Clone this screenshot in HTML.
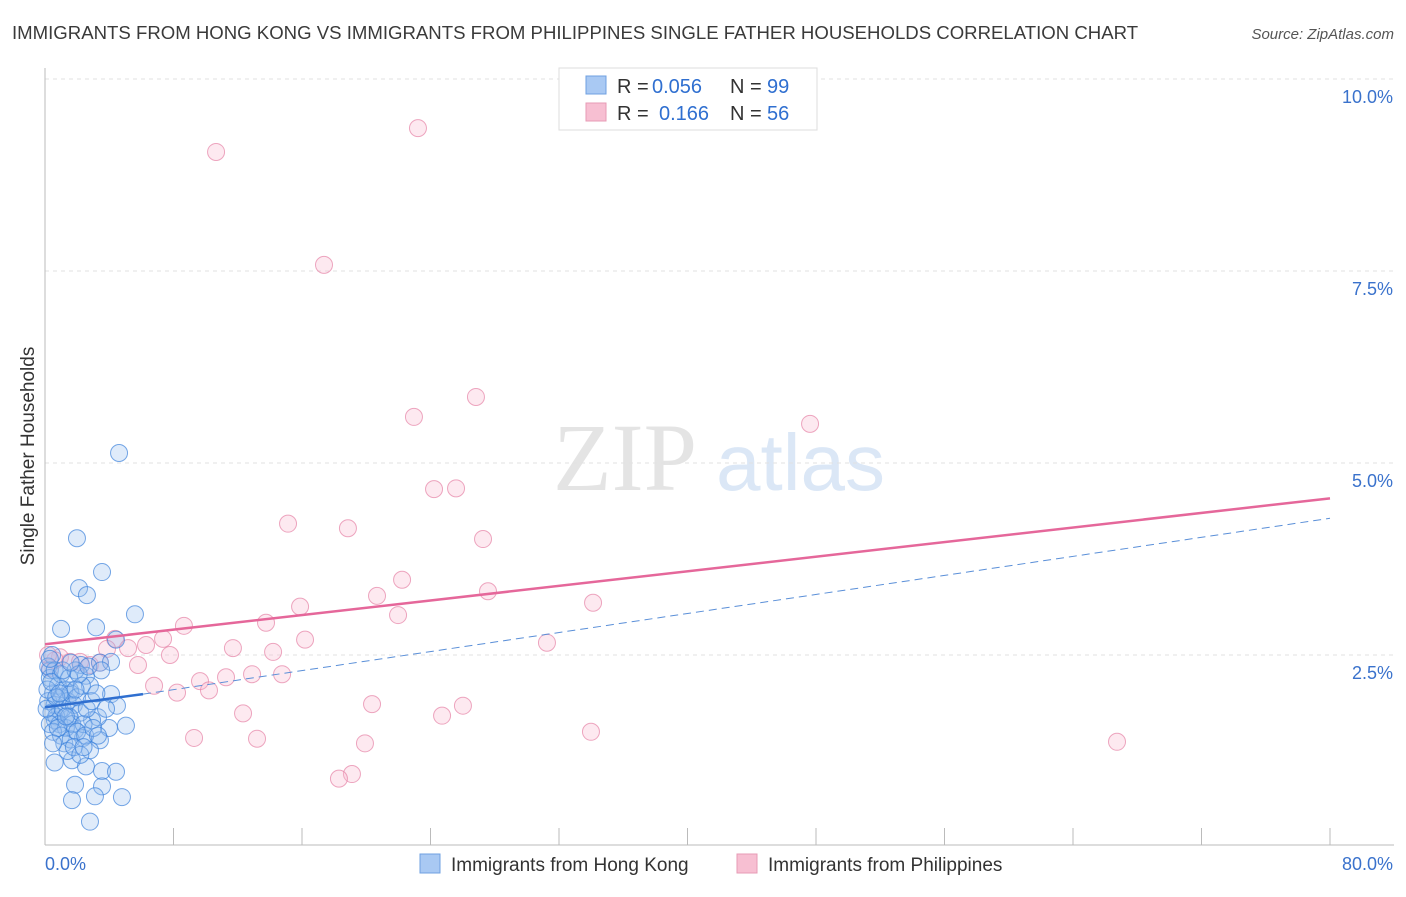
<!DOCTYPE html>
<html><head><meta charset="utf-8"><style>
body{margin:0;background:#fff;font-family:"Liberation Sans",sans-serif}
</style></head><body>
<svg id="chart" width="1406" height="892" xmlns="http://www.w3.org/2000/svg">
<text x="12" y="39" font-size="18.6" fill="#3a3a3a">IMMIGRANTS FROM HONG KONG VS IMMIGRANTS FROM PHILIPPINES SINGLE FATHER HOUSEHOLDS CORRELATION CHART</text>
<text x="1394" y="39" font-size="15" fill="#555" text-anchor="end" font-style="italic">Source: ZipAtlas.com</text>
<text x="553" y="490" font-size="96" fill="#e4e4e4" font-family="Liberation Serif,serif">ZIP</text>
<text x="716" y="490" font-size="80" fill="#dbe7f6">atlas</text>
<g id="grid"></g>
<g id="axes"></g>
<g id="pts"></g>
<g id="trends"></g>
<text transform="translate(34,456) rotate(-90)" font-size="19" fill="#333" text-anchor="middle">Single Father Households</text>
<g>
<rect x="559" y="68" width="258" height="62" fill="#fff" stroke="#ddd"/>
<rect x="586" y="76" width="20" height="18" fill="#a9c9f3" stroke="#6fa0e0"/>
<rect x="586" y="103" width="20" height="18" fill="#f7bfd2" stroke="#e79bb5"/>
<text x="617" y="93" font-size="20" fill="#333">R =</text>
<text x="652" y="93" font-size="20" fill="#2f6fd0">0.056</text>
<text x="730" y="93" font-size="20" fill="#333">N =</text>
<text x="767" y="93" font-size="20" fill="#2f6fd0">99</text>
<text x="617" y="120" font-size="20" fill="#333">R =</text>
<text x="659" y="120" font-size="20" fill="#2f6fd0">0.166</text>
<text x="730" y="120" font-size="20" fill="#333">N =</text>
<text x="767" y="120" font-size="20" fill="#2f6fd0">56</text>
</g>
<g>
<rect x="420" y="854" width="20" height="19" fill="#a9c9f3" stroke="#6fa0e0"/>
<text x="451" y="871" font-size="19" fill="#333">Immigrants from Hong Kong</text>
<rect x="737" y="854" width="20" height="19" fill="#f7bfd2" stroke="#e79bb5"/>
<text x="768" y="871" font-size="19" fill="#333">Immigrants from Philippines</text>
</g>
</svg>
<script>
const yTicks=[2.5,5.0,7.5,10.0];
const yTickLabels=["2.5%","5.0%","7.5%","10.0%"];
const xTicks=[0,8,16,24,32,40,48,56,64,72,80];
const hkX=[4.61,1.99,3.55,2.12,2.61,5.60,1.00,3.18,4.42,3.42,2.24,4.11,0.44,0.31,2.55,2.80,1.56,4.11,4.48,5.04,3.98,3.30,2.93,1.56,0.93,0.62,1.87,2.37,3.42,2.80,1.68,2.55,3.55,4.42,1.87,3.55,1.68,3.11,4.79,2.80,
0.3,0.5,0.2,0.6,0.8,1.0,1.2,0.4,0.7,1.1,1.4,1.6,1.8,2.0,0.9,1.3,1.5,1.7,2.2,2.4,0.3,0.5,1.0,1.2,1.6,2.0,2.6,2.9,0.2,0.6,1.0,1.5,1.9,2.3,0.15,0.4,0.8,1.4,1.8,2.5,3.2,3.8,0.1,1.1,2.1,2.7,0.7,1.3,3.0,3.5,0.5,2.2,1.9,0.9,0.3,1.6,2.4,3.3,0.6];
const hkY=[5.13,4.02,3.58,3.37,3.28,3.03,2.84,2.86,2.70,2.40,2.37,2.41,2.50,2.30,2.23,2.10,2.04,1.99,1.84,1.58,1.55,1.69,1.65,1.68,1.78,1.65,1.52,1.42,1.39,1.26,1.13,1.05,0.99,0.98,0.81,0.79,0.61,0.66,0.65,0.33,
2.2,2.0,1.9,1.85,2.1,1.95,2.05,1.75,1.7,1.8,1.9,2.0,1.85,1.95,1.6,1.55,1.7,1.6,1.75,1.6,1.6,1.5,1.45,1.35,1.4,1.5,1.8,1.9,2.35,2.3,2.25,2.2,2.3,2.1,2.05,2.15,1.55,1.25,1.3,1.45,2.0,1.8,1.8,2.3,2.25,2.35,1.95,1.7,1.55,2.3,1.35,1.2,2.05,2.0,2.45,2.4,1.3,1.45,1.1];
const phX=[10.65,23.22,17.37,26.83,22.97,47.63,24.22,25.59,15.13,18.86,27.27,22.23,20.67,15.88,27.58,34.12,21.98,8.65,13.76,4.36,7.35,16.19,31.25,11.70,14.20,6.29,3.86,5.17,7.78,5.79,0.93,1.56,2.80,3.42,0.31,14.76,12.89,11.27,9.65,6.79,10.21,8.22,20.36,26.02,24.72,12.33,9.28,13.20,19.92,33.99,66.74,19.11,18.30,0.62,2.18,0.19];
const phY=[9.05,9.36,7.58,5.86,5.60,5.51,4.66,4.67,4.21,4.15,4.01,3.48,3.27,3.13,3.33,3.18,3.02,2.88,2.92,2.71,2.71,2.70,2.66,2.59,2.54,2.63,2.58,2.59,2.50,2.37,2.47,2.41,2.37,2.40,2.33,2.25,2.25,2.21,2.16,2.10,2.04,2.01,1.86,1.84,1.71,1.74,1.42,1.41,1.35,1.50,1.37,0.95,0.89,2.43,2.41,2.50];
const hkTrend=[[0,1.82],[6.1,1.99],[80,4.28]];
const phTrend=[[0,2.64],[80,4.54]];
const NS="http://www.w3.org/2000/svg";
const X=v=>45+v/80*1285, Y=v=>847-v*76.8;
function mk(t,a,p){const e=document.createElementNS(NS,t);for(const k in a)e.setAttribute(k,a[k]);document.getElementById(p).appendChild(e);return e;}
yTicks.forEach((t,i)=>{
 const g=mk('line',{x1:45,x2:1394,y1:Y(t),y2:Y(t),stroke:'#e2e2e2','stroke-dasharray':'4,4'},'grid');
 
 
 const l=mk('text',{x:1393,y:Y(t)+24,'font-size':18,fill:'#3a72cc','text-anchor':'end'},'axes');
 l.textContent=yTickLabels[i];
 
 
});
const ax=mk('line',{x1:45,x2:45,y1:68,y2:845,stroke:'#bbb'},'axes');


const bx=mk('line',{x1:45,x2:1394,y1:845,y2:845,stroke:'#bbb'},'axes');


xTicks.forEach(t=>{const e=mk('line',{x1:X(t),x2:X(t),y1:828,y2:845,stroke:'#bbb'},'axes');
 
 });
const x0=mk('text',{x:45,y:870,'font-size':18,fill:'#3a72cc'},'axes');x0.textContent='0.0%';


const x1=mk('text',{x:1393,y:870,'font-size':18,fill:'#3a72cc','text-anchor':'end'},'axes');x1.textContent='80.0%';


phX.forEach((v,i)=>{const c=mk('circle',{cx:X(v),cy:Y(phY[i]),r:8.5,fill:'rgba(247,182,204,0.3)',stroke:'rgba(230,130,165,0.7)','stroke-width':1},'pts');
 
 });
hkX.forEach((v,i)=>{const c=mk('circle',{cx:X(v),cy:Y(hkY[i]),r:8.5,fill:'rgba(150,190,240,0.3)',stroke:'rgba(60,130,220,0.7)','stroke-width':1},'pts');
 
 });
const t1=mk('line',{x1:X(hkTrend[0][0]),y1:Y(hkTrend[0][1]),x2:X(hkTrend[1][0]),y2:Y(hkTrend[1][1]),stroke:'#2f6fd0','stroke-width':2.5},'trends');


const t2=mk('line',{x1:X(hkTrend[1][0]),y1:Y(hkTrend[1][1]),x2:X(hkTrend[2][0]),y2:Y(hkTrend[2][1]),stroke:'#5a8fd8','stroke-width':1,'stroke-dasharray':'8,5'},'trends');


const t3=mk('line',{x1:X(phTrend[0][0]),y1:Y(phTrend[0][1]),x2:X(phTrend[1][0]),y2:Y(phTrend[1][1]),stroke:'#e5679a','stroke-width':2.5},'trends');


</script>
</body></html>
